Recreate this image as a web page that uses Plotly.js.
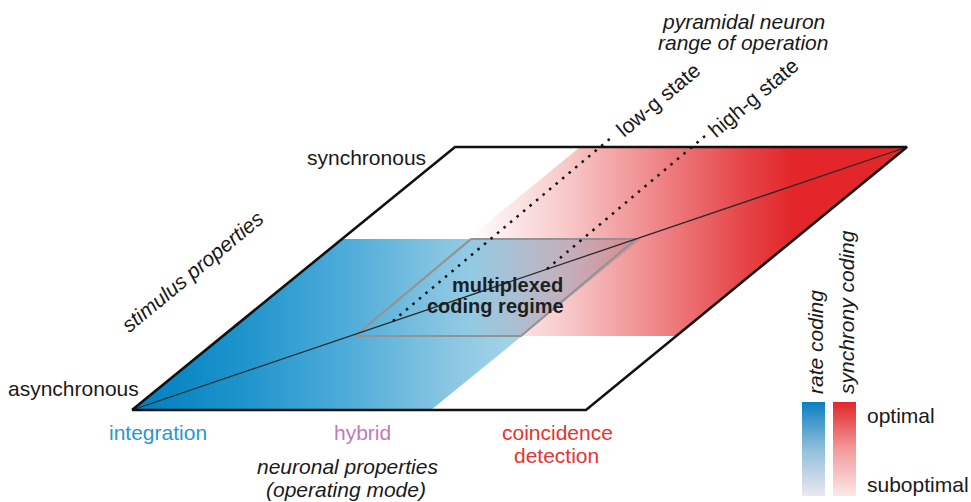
<!DOCTYPE html>
<html>
<head>
<meta charset="utf-8">
<script src="https://cdn.plot.ly/plotly-3.0.1.min.js"></script>
<style>html,body{margin:0;padding:0;background:#fff;}#chart{width:971px;height:502px;}</style>
</head>
<body>
<div id="chart"></div>
<script>
// ---- geometry of the schematic (pixel-like data coordinates) ----
var frameX = [132, 586, 907, 455, 132];
var frameY = [410, 410, 147, 147, 410];

var rateRegionX = [132, 431, 641, 341, 132];
var rateRegionY = [410, 410, 239, 239, 410];

var syncRegionX = [349, 678, 907, 580, 349];
var syncRegionY = [336, 336, 147, 147, 336];

var multiplexX = [355, 521, 636, 471, 355];
var multiplexY = [336, 336, 239, 239, 336];

var diagonalX = [132, 907];
var diagonalY = [410, 147];

var lowGX = [393, 612];
var lowGY = [321, 137];
var highGX = [547, 705];
var highGY = [269, 136];

var rateBarX = [802, 825, 825, 802, 802];
var rateBarY = [402, 402, 496, 496, 402];
var syncBarX = [833, 856, 856, 833, 833];
var syncBarY = [402, 402, 496, 496, 402];

// ---- colour scales ----
var rateScale = [[0, '#007fbe'], [0.2, '#1b92cb'], [0.42, '#4eacd9'], [0.62, '#89c6e2'], [0.82, '#b2daeb'], [1, '#d2e9f1']];
var syncScale = [[0, 'rgba(226,38,42,0)'], [0.22, 'rgba(226,38,42,0.25)'], [0.39, 'rgba(226,38,42,0.5)'], [0.62, 'rgba(226,38,42,0.85)'], [0.74, 'rgba(226,38,42,1)'], [1, 'rgba(226,38,42,1)']];
var rateBarScale = [[0, '#0a7fc0'], [0.5, '#8fbfdc'], [1, '#ebe8f2']];
var syncBarScale = [[0, '#e2262a'], [0.5, '#f29a9a'], [1, '#fce8e8']];

var FONT = 'Liberation Sans, Arial, sans-serif';

var traces = [
  {x: rateRegionX, y: rateRegionY, mode: 'none', fill: 'toself',
   fillgradient: {type: 'horizontal', colorscale: rateScale, start: 132, stop: 641}, hoverinfo: 'skip'},
  {x: syncRegionX, y: syncRegionY, mode: 'none', fill: 'toself',
   fillgradient: {type: 'horizontal', colorscale: syncScale, start: 470, stop: 907}, hoverinfo: 'skip'},
  {x: multiplexX, y: multiplexY, mode: 'lines', line: {color: '#939393', width: 2.2}, hoverinfo: 'skip'},
  {x: diagonalX, y: diagonalY, mode: 'lines', line: {color: '#2a2a2a', width: 1.3}, hoverinfo: 'skip'},
  {x: lowGX, y: lowGY, mode: 'lines', line: {color: '#111', width: 2.5, dash: '2.5px,6px'}, hoverinfo: 'skip'},
  {x: highGX, y: highGY, mode: 'lines', line: {color: '#111', width: 2.5, dash: '2.5px,6px'}, hoverinfo: 'skip'},
  {x: frameX, y: frameY, mode: 'lines', line: {color: '#111', width: 2.6}, hoverinfo: 'skip'},
  {x: rateBarX, y: rateBarY, mode: 'none', fill: 'toself',
   fillgradient: {type: 'vertical', colorscale: rateBarScale, start: 402, stop: 496}, hoverinfo: 'skip'},
  {x: syncBarX, y: syncBarY, mode: 'none', fill: 'toself',
   fillgradient: {type: 'vertical', colorscale: syncBarScale, start: 402, stop: 496}, hoverinfo: 'skip'}
];

function ann(text, x, y, opts) {
  var a = {text: text, x: x, y: y, xref: 'x', yref: 'y', showarrow: false,
           xanchor: 'center', yanchor: 'middle',
           font: {family: FONT, size: 21, color: '#1a1a1a'}};
  for (var k in opts) {
    if (k === 'font') { for (var f in opts.font) a.font[f] = opts.font[f]; }
    else a[k] = opts[k];
  }
  return a;
}

var annotations = [
  ann('synchronous', 428, 157, {xanchor: 'right'}),
  ann('asynchronous', 141, 388, {xanchor: 'right'}),
  ann('<i>stimulus properties</i>', 192, 271, {textangle: -39.5}),
  ann('integration', 158, 432, {font: {color: '#2a96d2'}}),
  ann('hybrid', 362, 432, {font: {color: '#c47ab8'}}),
  ann('coincidence', 557, 432, {font: {color: '#e8332e'}}),
  ann('detection', 556, 455, {font: {color: '#e8332e'}}),
  ann('<i>neuronal properties</i>', 347, 466, {}),
  ann('<i>(operating mode)</i>', 346, 489, {}),
  ann('<i>pyramidal neuron</i>', 743, 21, {}),
  ann('<i>range of operation</i>', 743, 42, {}),
  ann('low-g state', 658, 99, {textangle: -40}),
  ann('high-g state', 753, 97, {textangle: -40}),
  ann('<b>multiplexed</b>', 565, 285, {xanchor: 'right', font: {size: 20, color: '#1e1e1e'}}),
  ann('<b>coding regime</b>', 566, 306, {xanchor: 'right', font: {size: 20, color: '#1e1e1e'}}),
  ann('<i>rate coding</i>', 815, 396, {textangle: -90, yanchor: 'bottom'}),
  ann('<i>synchrony coding</i>', 846, 396, {textangle: -90, yanchor: 'bottom'}),
  ann('optimal', 865, 415, {xanchor: 'left'}),
  ann('suboptimal', 865, 484, {xanchor: 'left'})
];

var layout = {
  width: 971, height: 502,
  margin: {l: 0, r: 0, t: 0, b: 0},
  paper_bgcolor: '#ffffff', plot_bgcolor: '#ffffff',
  showlegend: false,
  xaxis: {range: [0, 971], visible: false, fixedrange: true},
  yaxis: {range: [502, 0], visible: false, fixedrange: true},
  annotations: annotations
};

Plotly.newPlot('chart', traces, layout, {staticPlot: true, displayModeBar: false});
</script>
</body>
</html>
